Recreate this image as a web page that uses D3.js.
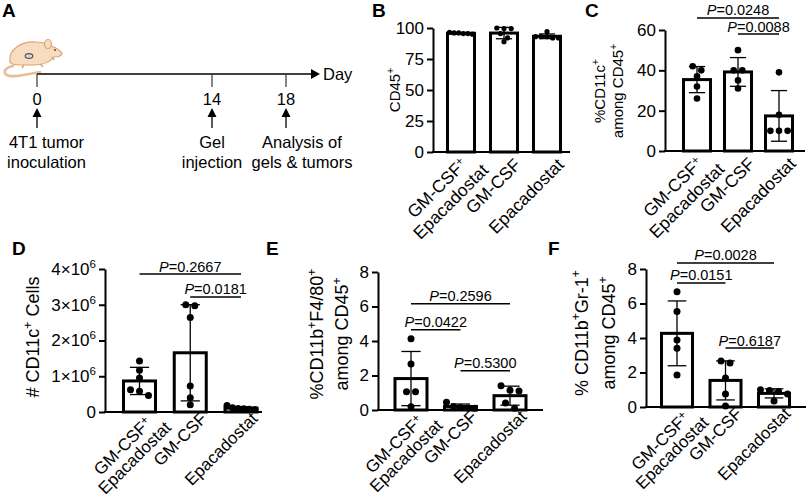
<!DOCTYPE html>
<html>
<head>
<meta charset="utf-8">
<script src="https://cdn.jsdelivr.net/npm/d3@7"></script>
<style>
body { margin: 0; background: #fff; }
svg { display: block; }
</style>
</head>
<body>
<svg id="fig" width="809" height="501"></svg>
<script>
(function () {
    'use strict';

    // ---- data ----
    var groupLabels = [['GM-CSF^{+}', 'Epacadostat'], ['GM-CSF'], ['Epacadostat']];

    var timelineDays = [0, 14, 18];
    var timelineEvents = [['4T1 tumor', 'inoculation'], ['Gel', 'injection'], ['Analysis of', 'gels & tumors']];

    // B: CD45+
    var cd45Ticks = [0, 25, 50, 75, 100];
    var cd45Values = [
        [96.5, 96, 95.5, 95.5, 95, 96],
        [100, 99.5, 99.5, 95.5, 92, 89],
        [92, 93, 93, 93, 92, 97]
    ];

    // C: %CD11c+ among CD45+
    var cd11cTicks = [0, 20, 40, 60];
    var cd11cValues = [
        [42, 40, 37, 32, 26],
        [50, 40, 40, 35, 31],
        [39, 18, 10, 10, 10]
    ];
    var cd11cPairs = [[0, 2, '0.0248', 66], [1, 2, '0.0088', 58]];

    // D: # CD11c+ cells
    var countTicks = [0, 1e6, 2e6, 3e6, 4e6];
    var countValues = [
        [1.43e6, 1.17e6, 0.95e6, 0.62e6, 0.58e6, 0.46e6],
        [3.0e6, 2.97e6, 2.64e6, 0.73e6, 0.4e6, 0.2e6],
        [0.18e6, 0.12e6, 0.1e6, 0.09e6, 0.08e6, 0.07e6]
    ];
    var countPairs = [[0, 2, '0.2667', 3.86e6], [1, 2, '0.0181', 3.22e6]];

    // E: %CD11b+F4/80+ among CD45+
    var macTicks = [0, 2, 4, 6, 8];
    var macValues = [
        [4.13, 2.67, 1.06, 1.06, 0.19],
        [0.45, 0.2, 0.15, 0.12, 0.1],
        [1.4, 1.15, 1.1, 0.4, 0.1]
    ];
    var macPairs = [[0, 2, '0.2596', 6.16], [0, 1, '0.0422', 4.65], [1, 2, '0.5300', 2.27]];

    // F: % CD11b+Gr-1+ among CD45+
    var mdscTicks = [0, 2, 4, 6, 8];
    var mdscValues = [
        [6.68, 5.53, 3.88, 3.4, 1.86],
        [2.67, 2.55, 1.68, 0.75, 0.06],
        [1.0, 0.95, 0.9, 0.75, 0.35]
    ];
    var mdscPairs = [[0, 2, '0.0028', 8.35], [0, 1, '0.0151', 7.19], [1, 2, '0.6187', 3.42]];

    var FONT = '"Liberation Sans", Arial, Helvetica, sans-serif';
    var svg = d3.select('#fig').attr('font-family', FONT);

    // text with ^{...} superscripts
    function rich(text, str, fs, rise) {
        var parts = str.split(/\^\{([^}]*)\}/), raised = false;
        rise = rise || 0.42;
        parts.forEach(function (p, i) {
            if (p === '') { return; }
            var t = text.append('tspan').text(p);
            if (i % 2) {
                t.attr('font-size', fs * 0.68).attr('dy', -fs * rise);
                raised = true;
            } else if (raised) {
                t.attr('dy', fs * rise);
                raised = false;
            }
        });
    }

    function letter(s, x, y) {
        svg.append('text').attr('x', x).attr('y', y).attr('font-size', 19)
            .attr('font-weight', 'bold').text(s);
    }

    // ---- panel A: timeline ----
    (function () {
        var g = svg.append('g');
        var tx = d3.scaleLinear().domain(timelineDays).range([37, 212, 286]);
        var lineY = 74, labelShift = [9.5, 0, 16];

        // mouse
        var m = g.append('g');
        m.append('path')
            .attr('d', 'M13,66 C3,68 2,75 10,76 C18,77 28,74 40,72')
            .attr('fill', 'none').attr('stroke', '#e9bd92').attr('stroke-width', 2.6).attr('stroke-linecap', 'round');
        m.append('path')
            .attr('d', 'M10,62 C8,49 22,41 36,42 C43,42 47,44 50,46 C54,46 58,49 62,53 C62,56 58,57 54,57 C50,62 43,65 34,65 L20,65 C14,65 11,64 10,62 Z')
            .attr('fill', '#f8dcc0').attr('stroke', '#dba475').attr('stroke-width', 1.2);
        m.append('ellipse').attr('cx', 48).attr('cy', 44).attr('rx', 3.5).attr('ry', 4.5)
            .attr('fill', '#f8dcc0').attr('stroke', '#dba475').attr('stroke-width', 1.2);
        m.append('path').attr('d', 'M24,65 L22,68 M40,64 L43,67 M52,57 L54,60')
            .attr('stroke', '#dba475').attr('stroke-width', 1.4).attr('fill', 'none');
        m.append('circle').attr('cx', 55).attr('cy', 50).attr('r', 1.1).attr('fill', '#6b4a33');
        m.append('ellipse').attr('cx', 29).attr('cy', 56).attr('rx', 3.8).attr('ry', 2.4)
            .attr('fill', '#d8d8d8').attr('stroke', '#555').attr('stroke-width', 1.2);

        // axis line with arrow
        g.append('line').attr('x1', tx(0)).attr('x2', 312).attr('y1', lineY).attr('y2', lineY)
            .attr('stroke', '#000').attr('stroke-width', 1.4);
        g.append('path').attr('d', 'M311,69 L320,74 L311,79 Z').attr('fill', '#000');
        g.append('text').attr('x', 323).attr('y', 80).attr('font-size', 16.5).text('Day');

        timelineDays.forEach(function (d, i) {
            var x = tx(d);
            g.append('line').attr('x1', x).attr('x2', x).attr('y1', lineY).attr('y2', lineY + 13)
                .attr('stroke', '#333').attr('stroke-width', 1.2);
            g.append('text').attr('x', x).attr('y', 105).attr('text-anchor', 'middle')
                .attr('font-size', 16.5).text(d);
            g.append('line').attr('x1', x).attr('x2', x).attr('y1', 114).attr('y2', 128)
                .attr('stroke', '#000').attr('stroke-width', 1.3);
            g.append('path').attr('d', 'M' + (x - 4.5) + ',117 L' + x + ',108 L' + (x + 4.5) + ',117 Z')
                .attr('fill', '#000');
            timelineEvents[i].forEach(function (s, li) {
                g.append('text').attr('x', x + labelShift[i]).attr('y', 148 + li * 20)
                    .attr('text-anchor', 'middle').attr('font-size', 16.5).text(s);
            });
        });
        letter('A', 2, 17);
    }());

    // ---- bar panels ----
    function spread(vals, y, r, maxW) {
        var pts = vals.map(function (v) { return {v: v, py: y(v)}; })
            .sort(function (a, b) { return a.py - b.py; });
        var rows = [];
        pts.forEach(function (pt) {
            var row = rows[rows.length - 1];
            if (row && Math.abs(pt.py - row[0].py) < r * 1.8) { row.push(pt); } else { rows.push([pt]); }
        });
        rows.forEach(function (row) {
            var step = row.length > 1 ? Math.min(2 * r + 2, maxW / (row.length - 1)) : 0;
            row.forEach(function (pt, k) { pt.dx = (k - (row.length - 1) / 2) * step; });
        });
        return pts;
    }

    function drawPanel(p) {
        var g = svg.append('g');
        var y = d3.scaleLinear().domain([0, p.yMax]).range([p.yBot, p.yTop]);
        var x = d3.scalePoint().domain(d3.range(p.values.length)).range([p.c0, p.c2]);
        var stats = p.values.map(function (v) { return {mean: d3.mean(v), sd: d3.deviation(v), vals: v}; });
        var capW = p.barW * 0.6;

        g.selectAll('rect.bar').data(stats).enter().append('rect')
            .attr('class', 'bar')
            .attr('x', function (d, i) { return x(i) - p.barW / 2; })
            .attr('y', function (d) { return y(d.mean); })
            .attr('width', p.barW)
            .attr('height', function (d) { return p.yBot - y(d.mean); })
            .attr('fill', '#fff').attr('stroke', '#000').attr('stroke-width', 3);

        stats.forEach(function (d, i) {
            var cx = x(i), lo = y(Math.max(0, d.mean - d.sd)), hi = y(d.mean + d.sd);
            var eb = g.append('g').attr('stroke', '#000').attr('stroke-width', 1.3);
            eb.append('line').attr('x1', cx).attr('x2', cx).attr('y1', lo).attr('y2', hi);
            eb.append('line').attr('x1', cx - capW / 2).attr('x2', cx + capW / 2).attr('y1', hi).attr('y2', hi);
            if (d.mean - d.sd > 0) {
                eb.append('line').attr('x1', cx - capW / 2).attr('x2', cx + capW / 2).attr('y1', lo).attr('y2', lo);
            }
            g.selectAll(null).data(spread(d.vals, y, p.r, p.barW - 4)).enter().append('circle')
                .attr('cx', function (pt) { return cx + pt.dx; })
                .attr('cy', function (pt) { return pt.py; })
                .attr('r', p.r).attr('fill', '#000');
        });

        // axes
        var ax = d3.axisLeft(y).tickValues(p.ticks).tickSize(6).tickSizeOuter(0).tickPadding(3)
            .tickFormat(d3.format('d'));
        var ag = g.append('g').attr('transform', 'translate(' + p.axisX + ',0)').call(ax)
            .attr('font-family', FONT).attr('font-size', 17);
        ag.select('.domain').attr('stroke-width', 2);
        ag.selectAll('.tick line').attr('stroke-width', 2);
        ag.selectAll('.tick text').attr('fill', '#000');
        if (p.richTick) {
            ag.selectAll('.tick text').each(function (d) {
                var t = d3.select(this).text(null);
                rich(t, p.richTick(d), 17);
            });
        }
        g.append('line').attr('x1', p.axisX - 1).attr('x2', p.xEnd).attr('y1', p.yBot).attr('y2', p.yBot)
            .attr('stroke', '#000').attr('stroke-width', 2);

        // category labels, rotated, lines centred on each other
        groupLabels.forEach(function (lines, i) {
            var multi = lines.length > 1, lh = p.labFs * p.labLH;
            var ox = p.lab[0] + (multi ? p.labMulti[0] : 0), oy = p.lab[1] + (multi ? p.labMulti[1] : 0);
            var lg = g.append('g').attr('transform',
                'translate(' + (x(i) + ox) + ',' + (p.yBot + oy) + ') rotate(-45)');
            var texts = lines.map(function (s, li) {
                var t = lg.append('text').attr('text-anchor', 'end').attr('font-size', p.labFs)
                    .attr('y', p.labFs * 0.72 + (li - (lines.length - 1) * p.labK) * lh);
                rich(t, s, p.labFs, 0.3);
                return t;
            });
            var widths = texts.map(function (t) { return t.node().getComputedTextLength(); });
            var maxW = d3.max(widths);
            texts.forEach(function (t, li) { t.attr('x', -(maxW - widths[li]) / 2); });
        });

        // y title
        var tg = g.append('g').attr('transform', 'translate(' + p.titleX + ',' + p.titleY + ') rotate(-90)');
        p.title.forEach(function (s, li) {
            var t = tg.append('text').attr('text-anchor', 'middle').attr('font-size', p.titleFs)
                .attr('y', (li - (p.title.length - 1) / 2) * p.titleLH + p.titleFs * 0.36);
            rich(t, s, p.titleFs);
        });

        // significance lines
        p.pairs.forEach(function (b) {
            var yy = y(b[3]);
            g.append('line').attr('x1', x(b[0])).attr('x2', x(b[1])).attr('y1', yy).attr('y2', yy)
                .attr('stroke', '#000').attr('stroke-width', 1.5);
            var t = g.append('text').attr('x', (x(b[0]) + x(b[1])) / 2).attr('y', yy - 2.5)
                .attr('text-anchor', 'middle').attr('font-size', 14.5);
            t.append('tspan').attr('font-style', 'italic').text('P');
            t.append('tspan').text('=' + b[2]);
        });

        letter(p.letter[0], p.letter[1], p.letter[2]);
    }

    drawPanel({
        letter: ['B', 372, 17], values: cd45Values, ticks: cd45Ticks, yMax: 100, pairs: [],
        title: ['CD45^{+}'], titleX: 395, titleY: 90, titleLH: 18, titleFs: 15,
        axisX: 433, yTop: 28, yBot: 152, xEnd: 570, c0: 461, c2: 547, barW: 27, r: 2.6,
        lab: [9, 5], labMulti: [5, 0], labFs: 17.5, labLH: 1.1, labK: 0.6
    });
    drawPanel({
        letter: ['C', 585, 17], values: cd11cValues, ticks: cd11cTicks, yMax: 60, pairs: cd11cPairs,
        title: ['%CD11c^{+}', 'among CD45^{+}'], titleX: 609, titleY: 91, titleLH: 18, titleFs: 15,
        axisX: 665, yTop: 30, yBot: 151, xEnd: 805, c0: 697, c2: 779, barW: 27, r: 3.3,
        lab: [9, 5], labMulti: [5, 0], labFs: 17.5, labLH: 1.1, labK: 0.6
    });
    drawPanel({
        letter: ['D', 12, 255], values: countValues, ticks: countTicks, yMax: 4e6, pairs: countPairs,
        richTick: function (d) { return d === 0 ? '0' : (d / 1e6) + '\u00d710^{6}'; },
        title: ['# CD11c^{+} Cells'], titleX: 33, titleY: 337, titleLH: 18, titleFs: 18,
        axisX: 105, yTop: 269, yBot: 412, xEnd: 262, c0: 139.5, c2: 241, barW: 32, r: 3.5,
        lab: [9, -1], labMulti: [9, 3], labFs: 17, labLH: 0.98, labK: 0.5
    });
    drawPanel({
        letter: ['E', 266, 255], values: macValues, ticks: macTicks, yMax: 8, pairs: macPairs,
        title: ['%CD11b^{+}F4/80^{+}', 'among CD45^{+}'], titleX: 329.5, titleY: 334, titleLH: 25, titleFs: 18,
        axisX: 378, yTop: 272, yBot: 410, xEnd: 543, c0: 411, c2: 510, barW: 32, r: 3.5,
        lab: [9, -1], labMulti: [9, 3], labFs: 17, labLH: 0.98, labK: 0.5
    });
    drawPanel({
        letter: ['F', 548, 255], values: mdscValues, ticks: mdscTicks, yMax: 8, pairs: mdscPairs,
        title: ['% CD11b^{+}Gr-1^{+}', 'among CD45^{+}'], titleX: 595, titleY: 333, titleLH: 27, titleFs: 18,
        axisX: 646, yTop: 269, yBot: 407, xEnd: 806, c0: 677, c2: 774, barW: 31, r: 3.5,
        lab: [9, -1], labMulti: [9, 3], labFs: 17, labLH: 0.98, labK: 0.5
    });
}());
</script>
</body>
</html>
